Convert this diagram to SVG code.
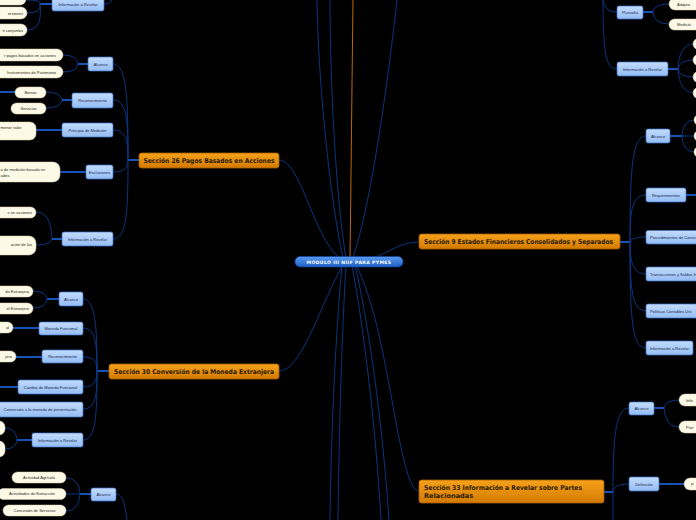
<svg xmlns="http://www.w3.org/2000/svg" width="696" height="520" viewBox="0 0 696 520">
<defs>
<linearGradient id="gOr" x1="0" y1="0" x2="0" y2="1"><stop offset="0" stop-color="#f7a21b"/><stop offset="1" stop-color="#d27a00"/></linearGradient>
<linearGradient id="gBl" x1="0" y1="0" x2="0" y2="1"><stop offset="0" stop-color="#c2dbfb"/><stop offset="1" stop-color="#94bdf4"/></linearGradient>
<linearGradient id="gC" x1="0" y1="0" x2="0" y2="1"><stop offset="0" stop-color="#5a9cf0"/><stop offset="1" stop-color="#1e5ec4"/></linearGradient>
</defs>
<style>
.c{fill:none;stroke:#0c3b8c;stroke-width:0.9}
.s{fill:none;stroke:#1a62d6;stroke-width:1.7}
.o{fill:none;stroke:#c06a00;stroke-width:1}
.sec rect{fill:url(#gOr);stroke:#a55e00;stroke-width:0.8}
.sec text{font-family:"DejaVu Sans",sans-serif;font-weight:bold;font-size:6.6px;fill:#2a1a00}
.sub rect{fill:url(#gBl);stroke:#3d73cc;stroke-width:0.7}
.sub text{font-family:"Liberation Sans",sans-serif;font-size:4px;fill:#1a2a4a;text-anchor:middle}
.sub text.st{text-anchor:start}
.lf rect{fill:#fcf9e6;stroke:#d9d2ac;stroke-width:0.5}
.lf text{font-family:"Liberation Sans",sans-serif;font-size:4px;fill:#2a2a20;text-anchor:middle}
.lf text.e{text-anchor:end}
.lf text.st{text-anchor:start}
</style>
<rect width="696" height="520" fill="#000"/>
<g id="connectors">
<path class="o" d="M350,258 C351,180 352,80 353,0"/>
<path class="c" d="M343,258 C330,200 318,80 317,0"/>
<path class="c" d="M346,258 C336,200 330,80 330,0"/>
<path class="c" d="M353,258 C372,200 388,80 397,0"/>
<path class="c" d="M279,160 C302,160 316,250 345,261"/>
<path class="c" d="M419,242 C395,242 385,258 360,261"/>
<path class="c" d="M279,371 C302,371 322,300 343,265"/>
<path class="c" d="M419,491 C398,491 390,330 356,265"/>
<path class="c" d="M342,265 C336,330 331,430 330,520"/>
<path class="c" d="M346,265 C342,330 339,430 338,520"/>
<path class="c" d="M352,265 C364,330 376,430 381,520"/>
<path class="c" d="M355,265 C370,330 383,430 389,520"/>
<path class="c" d="M104,4 C110,4 112,2 113,-4"/>
<path class="s" d="M52,4 L40,4"/>
<path class="c" d="M40,4 Q42,0 26,0"/>
<path class="c" d="M40,4 Q42,13 27,13"/>
<path class="c" d="M40,4 Q43,30 27,30"/>
<path class="s" d="M139,160 L128,160"/>
<path class="c" d="M128,160 C128,100 127,64 113,64"/>
<path class="c" d="M128,160 C128,120 127,100 113,100"/>
<path class="c" d="M128,160 C128,140 126,130 113,130"/>
<path class="c" d="M128,160 C128,168 124,172 113,172"/>
<path class="c" d="M128,160 C128,210 127,239 113,239"/>
<path class="s" d="M88,64 L78,64"/>
<path class="c" d="M78,64 Q77,55 63,55"/>
<path class="c" d="M78,64 Q77,72 63,72"/>
<path class="s" d="M72,100 L62,100"/>
<path class="c" d="M62,100 Q61,92 46,92"/>
<path class="c" d="M62,100 Q61,108 46,108"/>
<path class="s" d="M15,92 L0,92"/>
<path class="s" d="M62,130 L36,130"/>
<path class="s" d="M86,172 L60,172"/>
<path class="s" d="M62,239 L52,239"/>
<path class="c" d="M52,239 Q51,212 36,212"/>
<path class="c" d="M52,239 Q51,245 36,245"/>
<path class="s" d="M109,371 L97,371"/>
<path class="c" d="M97,371 C97,330 96,299 83,299"/>
<path class="c" d="M97,371 C97,345 96,328 83,328"/>
<path class="c" d="M97,371 C97,362 95,357 83,357"/>
<path class="c" d="M97,371 C97,380 95,387 83,387"/>
<path class="c" d="M97,371 C97,395 96,409 83,409"/>
<path class="c" d="M97,371 C97,415 96,440 83,440"/>
<path class="s" d="M59,299 L47,299"/>
<path class="c" d="M47,299 Q46,291 33,291"/>
<path class="c" d="M47,299 Q46,308 33,308"/>
<path class="s" d="M39,328 L13,328"/>
<path class="s" d="M42,357 L16,357"/>
<path class="s" d="M18,387 L0,387"/>
<path class="s" d="M32,440 L17,440"/>
<path class="c" d="M17,440 Q16,428 5,428"/>
<path class="c" d="M17,440 Q16,449 5,449"/>
<path class="c" d="M116,494 C123,494 125,505 127,520"/>
<path class="s" d="M91,494 L80,494"/>
<path class="c" d="M80,494 Q79,478 66,478"/>
<path class="c" d="M80,494 L66,494"/>
<path class="c" d="M80,494 Q79,511 66,511"/>
<path class="c" d="M617,12 C608,12 604,8 603,-2"/>
<path class="c" d="M617,69 C606,69 603,55 603,-2"/>
<path class="s" d="M643,12 L653,12"/>
<path class="c" d="M653,12 Q654,4 669,4"/>
<path class="c" d="M653,12 Q654,24 669,24"/>
<path class="s" d="M668,69 L678,69"/>
<path class="c" d="M678,69 Q679,44 694,44"/>
<path class="c" d="M678,69 Q679,60 694,60"/>
<path class="c" d="M678,69 Q679,77 694,77"/>
<path class="c" d="M678,69 Q679,93 694,93"/>
<path class="s" d="M620,242 L630,242"/>
<path class="c" d="M630,242 C630,170 632,136 646,136"/>
<path class="c" d="M630,242 C630,210 632,195 646,195"/>
<path class="c" d="M630,242 C630,240 634,237 646,237"/>
<path class="c" d="M630,242 C630,260 632,274 646,274"/>
<path class="c" d="M630,242 C630,290 632,311 646,311"/>
<path class="c" d="M630,242 C630,320 632,348 646,348"/>
<path class="s" d="M670,136 L682,136"/>
<path class="c" d="M682,136 Q683,120 694,120"/>
<path class="c" d="M682,136 L694,136"/>
<path class="c" d="M682,136 Q683,152 694,152"/>
<path class="s" d="M686,195 L696,195"/>
<path class="s" d="M604,492 L613,492"/>
<path class="c" d="M613,492 C613,440 615,408 629,408"/>
<path class="c" d="M613,492 C613,488 617,484 629,484"/>
<path class="c" d="M613,492 C613,500 613,510 613,522"/>
<path class="s" d="M654,408 L664,408"/>
<path class="c" d="M664,408 Q665,400 679,400"/>
<path class="c" d="M664,408 Q665,427 679,427"/>
<path class="s" d="M659,484 L684,484"/>
</g>

<g id="center">
<rect x="295" y="256.5" width="108" height="10.5" rx="5" fill="url(#gC)" stroke="#0f3f9a" stroke-width="0.7"/>
<text x="349" y="264" font-family="DejaVu Sans,sans-serif" font-weight="bold" font-size="4.6" fill="#fff" text-anchor="middle" letter-spacing="0.35">MODULO III NIIF PARA PYMES</text>
</g>

<g id="sec26" class="sec"><rect x="139" y="153" width="140" height="15" rx="2.5"/><text x="143.5" y="162.6" textLength="131" lengthAdjust="spacingAndGlyphs">Sección 26 Pagos Basados en Acciones</text></g>
<g id="sec9" class="sec"><rect x="419" y="234" width="201" height="15" rx="2.5"/><text x="424" y="243.6" textLength="189" lengthAdjust="spacingAndGlyphs">Sección 9 Estados Financieros Consolidados y Separados</text></g>
<g id="sec30" class="sec"><rect x="109" y="364" width="170" height="15" rx="2.5"/><text x="114" y="373.6" textLength="160" lengthAdjust="spacingAndGlyphs">Sección 30 Conversión de la Moneda Extranjera</text></g>
<g id="sec33" class="sec"><rect x="419" y="480" width="185" height="23" rx="2.5"/><text x="424" y="490.3" textLength="158" lengthAdjust="spacingAndGlyphs">Sección 33 Información a Revelar sobre Partes</text><text x="424" y="498.3">Relacionadas</text></g>

<g id="tl-info" class="sub"><rect x="52" y="-3" width="52" height="14" rx="2"/><text x="78" y="5.5">Información a Revelar</text></g>
<g id="tl-l1" class="lf"><rect x="-20" y="-7" width="46" height="12" rx="6"/></g>
<g id="tl-l2" class="lf"><rect x="-20" y="7" width="47" height="12" rx="6"/><text class="e" x="23" y="14.5">ersiones</text></g>
<g id="tl-l3" class="lf"><rect x="-20" y="24" width="47" height="12" rx="6"/><text class="e" x="23" y="31.5">n conjuntos</text></g>

<g id="s26-alc" class="sub"><rect x="88" y="57" width="25" height="14" rx="2"/><text x="100.5" y="65.5">Alcance</text></g>
<g id="s26-alc-l1" class="lf"><rect x="-20" y="49" width="83" height="12" rx="6"/><text class="e" x="56" y="56.5">r pagos basados en acciones</text></g>
<g id="s26-alc-l2" class="lf"><rect x="-20" y="66" width="83" height="12" rx="6"/><text class="e" x="56" y="73.5">Instrumentos de Patrimonio</text></g>
<g id="s26-rec" class="sub"><rect x="72" y="93" width="41" height="15" rx="2"/><text x="92.5" y="101.8">Reconocimiento</text></g>
<g id="s26-bienes" class="lf"><rect x="15" y="87" width="31" height="11" rx="5.5"/><text x="30.5" y="93.8">Bienes</text></g>
<g id="s26-serv" class="lf"><rect x="11" y="103" width="35" height="11" rx="5.5"/><text x="28.5" y="109.8">Servicios</text></g>
<g id="s26-pm" class="sub"><rect x="62" y="123" width="51" height="14" rx="2"/><text x="87.5" y="131.5">Principio de Medición</text></g>
<g id="s26-pm-l" class="lf"><rect x="-20" y="122" width="56" height="18" rx="6"/><text class="st" x="0.5" y="129">menor valor</text></g>
<g id="s26-exc" class="sub"><rect x="86" y="165" width="27" height="14" rx="2"/><text x="99.5" y="173.5">Exclusiones</text></g>
<g id="s26-exc-l" class="lf"><rect x="-40" y="162" width="100" height="20" rx="7"/><text class="st" x="0.5" y="171">a de medición basada en</text><text class="st" x="0.5" y="176.5">ades.</text></g>
<g id="s26-info" class="sub"><rect x="62" y="232" width="51" height="14" rx="2"/><text x="87.5" y="240.5">Información a Revelar</text></g>
<g id="s26-info-l1" class="lf"><rect x="-20" y="207" width="56" height="11" rx="5.5"/><text class="e" x="32" y="213.8">s en acciones</text></g>
<g id="s26-info-l2" class="lf"><rect x="-20" y="236" width="56" height="19" rx="7"/><text class="e" x="32" y="245.5">ación de las</text></g>

<g id="s30-alc" class="sub"><rect x="59" y="292" width="24" height="14" rx="2"/><text x="71" y="300.5">Alcance</text></g>
<g id="s30-alc-l1" class="lf"><rect x="-20" y="286" width="53" height="11" rx="5.5"/><text class="e" x="29" y="292.8">da Extranjera</text></g>
<g id="s30-alc-l2" class="lf"><rect x="-20" y="303" width="53" height="11" rx="5.5"/><text class="e" x="29" y="309.8">el Extranjero</text></g>
<g id="s30-mf" class="sub"><rect x="39" y="322" width="44" height="13" rx="2"/><text x="61" y="330">Moneda Funcional</text></g>
<g id="s30-mf-l" class="lf"><rect x="-20" y="322" width="33" height="11" rx="5.5"/><text class="e" x="9" y="328.8">al</text></g>
<g id="s30-rec" class="sub"><rect x="42" y="350" width="41" height="13" rx="2"/><text x="62.5" y="358">Reconocimiento</text></g>
<g id="s30-rec-l" class="lf"><rect x="-20" y="351" width="36" height="11" rx="5.5"/><text class="e" x="12" y="357.8">jera</text></g>
<g id="s30-cmf" class="sub"><rect x="18" y="380" width="65" height="14" rx="2"/><text x="50.5" y="388.5">Cambio de Moneda Funcional</text></g>
<g id="s30-conv" class="sub"><rect x="-5" y="402" width="88" height="15" rx="2"/><text x="40" y="410.8">Conversión a la moneda de presentación</text></g>
<g id="s30-info" class="sub"><rect x="32" y="433" width="51" height="14" rx="2"/><text x="57.5" y="441.5">Información a Revelar</text></g>
<g id="s30-info-l1" class="lf"><rect x="-30" y="421" width="35" height="14" rx="6"/></g>
<g id="s30-info-l2" class="lf"><rect x="-30" y="441" width="35" height="16" rx="6"/></g>

<g id="bl-alc" class="sub"><rect x="91" y="488" width="25" height="13" rx="2"/><text x="103.5" y="496">Alcance</text></g>
<g id="bl-l1" class="lf"><rect x="12" y="472" width="54" height="11" rx="5.5"/><text x="39" y="478.8">Actividad Agrícola</text></g>
<g id="bl-l2" class="lf"><rect x="-2" y="488.5" width="68" height="11" rx="5.5"/><text x="32" y="495.3">Actividades de Extracción</text></g>
<g id="bl-l3" class="lf"><rect x="3" y="505" width="63" height="11" rx="5.5"/><text x="34.5" y="511.8">Concesión de Servicios</text></g>

<g id="tr-plus" class="sub"><rect x="617" y="6" width="26" height="13" rx="2"/><text x="630" y="14">Plusvalía</text></g>
<g id="tr-plus-l1" class="lf"><rect x="669" y="-2" width="50" height="12" rx="6"/><text class="st" x="677" y="5.5">Adquisi</text></g>
<g id="tr-plus-l2" class="lf"><rect x="669" y="19" width="50" height="11" rx="5.5"/><text class="st" x="677" y="25.8">Medició</text></g>
<g id="tr-info" class="sub"><rect x="617" y="62" width="51" height="14" rx="2"/><text x="642.5" y="70.5">Información a Revelar</text></g>
<g id="tr-info-l1" class="lf"><rect x="693" y="38.5" width="30" height="11" rx="5.5"/></g>
<g id="tr-info-l2" class="lf"><rect x="693" y="54.5" width="30" height="11" rx="5.5"/></g>
<g id="tr-info-l3" class="lf"><rect x="693" y="71.5" width="30" height="11" rx="5.5"/></g>
<g id="tr-info-l4" class="lf"><rect x="693" y="87.5" width="30" height="11" rx="5.5"/></g>

<g id="s9-alc" class="sub"><rect x="646" y="129" width="24" height="14" rx="2"/><text x="658" y="137.5">Alcance</text></g>
<g id="s9-alc-l1" class="lf"><rect x="694" y="114.5" width="30" height="11" rx="5.5"/></g>
<g id="s9-alc-l2" class="lf"><rect x="694" y="130.5" width="30" height="11" rx="5.5"/></g>
<g id="s9-alc-l3" class="lf"><rect x="694" y="146.5" width="30" height="11" rx="5.5"/></g>
<g id="s9-req" class="sub"><rect x="646" y="188" width="40" height="14" rx="2"/><text x="666" y="196.5">Requerimientos</text></g>
<g id="s9-proc" class="sub"><rect x="646" y="230.5" width="70" height="13.5" rx="2"/><text class="st" x="650" y="238.8">Procedimientos de Conso</text></g>
<g id="s9-trans" class="sub"><rect x="646" y="267" width="70" height="14" rx="2"/><text class="st" x="650" y="275.5">Transacciones y Saldos In</text></g>
<g id="s9-pol" class="sub"><rect x="646" y="304" width="70" height="14" rx="2"/><text class="st" x="650" y="312.5">Políticas Contables Uni</text></g>
<g id="s9-info" class="sub"><rect x="646" y="341" width="47" height="14" rx="2"/><text x="669.5" y="349.5">Información a Revelar</text></g>

<g id="s33-alc" class="sub"><rect x="629" y="402" width="25" height="13" rx="2"/><text x="641.5" y="410">Alcance</text></g>
<g id="s33-alc-l1" class="lf"><rect x="679" y="394" width="40" height="12" rx="6"/><text class="st" x="686" y="401.5">Info</text></g>
<g id="s33-alc-l2" class="lf"><rect x="679" y="421" width="40" height="12" rx="6"/><text class="st" x="686" y="428.5">Part</text></g>
<g id="s33-def" class="sub"><rect x="629" y="477" width="30" height="14" rx="2"/><text x="644" y="485.5">Definición</text></g>
<g id="s33-def-l" class="lf"><rect x="684" y="478" width="40" height="12" rx="6"/><text class="st" x="691" y="485.5">P</text></g>
</svg>
